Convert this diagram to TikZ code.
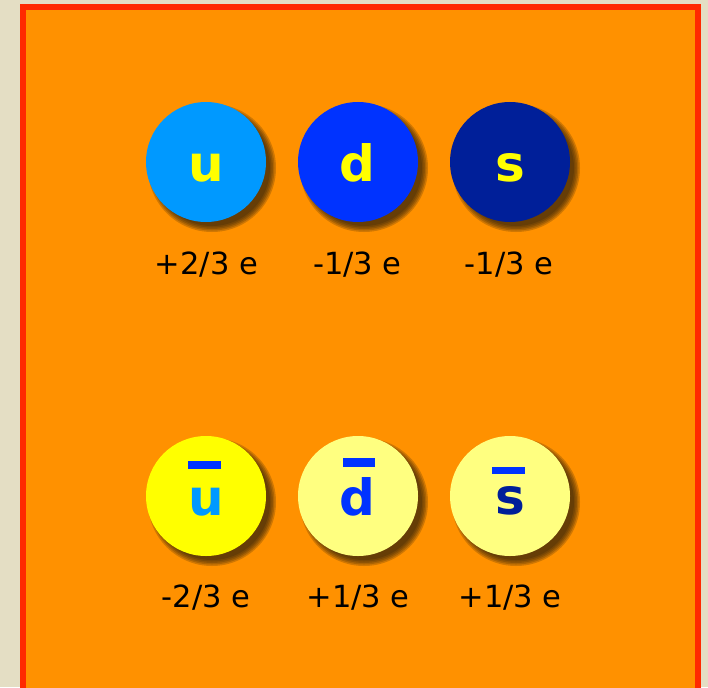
\documentclass[tikz,border=0pt]{standalone}
\usepackage{fontspec}
\setmainfont{DejaVu Sans}
\definecolor{bgbeige}{HTML}{E4DEC4}
\definecolor{boxorange}{HTML}{FF9100}
\definecolor{boxred}{HTML}{FF2A00}
\definecolor{qu}{HTML}{0099FF}
\definecolor{qd}{HTML}{0033FF}
\definecolor{qs}{HTML}{001F99}
\definecolor{qyel}{HTML}{FFFF00}
\definecolor{qpale}{HTML}{FFFF80}
\definecolor{shadowc}{HTML}{2A1E0A}
\begin{document}
\begin{tikzpicture}[x=1pt,y=-1pt,
  quark/.style={circle,minimum size=120pt,inner sep=0pt},
  letter/.style={font=\fontsize{50}{50}\selectfont\bfseries,anchor=base,inner sep=0pt},
  charge/.style={font=\fontsize{30.5}{30.5}\selectfont,text=black,anchor=base,inner sep=0pt},
  antibar/.style={fill=qd,draw=none}]
\useasboundingbox (0,0) rectangle (708,687);
\clip (0,0) rectangle (708,687);
\fill[bgbeige] (0,0) rectangle (708,687);
\draw[boxred,line width=6pt,fill=boxorange] (23,7) rectangle (698,720);
% shadows
\foreach \cx/\cy in {206/162,358/162,510/162,206/496,358/496,510/496}{
  \foreach \r in {64,62.5,61,59.5,58}{
    \fill[shadowc,opacity=0.22] (\cx+6,\cy+6) circle (\r);
  }
}
% quarks
\node[quark,fill=qu] (u) at (206,162) {};
\node[quark,fill=qd] (d) at (358,162) {};
\node[quark,fill=qs] (s) at (510,162) {};
\node[quark,fill=qyel] (ub) at (206,496) {};
\node[quark,fill=qpale] (db) at (358,496) {};
\node[quark,fill=qpale] (sb) at (510,496) {};
\node[letter,text=qyel] (lu) at (206,181) {u};
\node[letter,text=qyel] (ld) at (357,181) {d};
\node[letter,text=qyel] (ls) at (510,181) {s};
\node[letter,text=qu] (lub) at (206,515) {u};
\node[letter,text=qd] (ldb) at (357,515) {d};
\node[letter,text=qs] (lsb) at (510,514) {s};
% bars
\fill[antibar] (188,461) rectangle (221,469);
\fill[antibar] (343,458) rectangle (375,467);
\fill[antibar] (492,467) rectangle (525,474);
% charges
\node[charge] (cu) at (206.5,274) {+2/3 e};
\node[charge] (cd) at (357.5,274) {-1/3 e};
\node[charge] (cs) at (509,274) {-1/3 e};
\node[charge] (cub) at (206,607) {-2/3 e};
\node[charge] (cdb) at (358,607) {+1/3 e};
\node[charge] (csb) at (510,607) {+1/3 e};
\end{tikzpicture}
\end{document}
